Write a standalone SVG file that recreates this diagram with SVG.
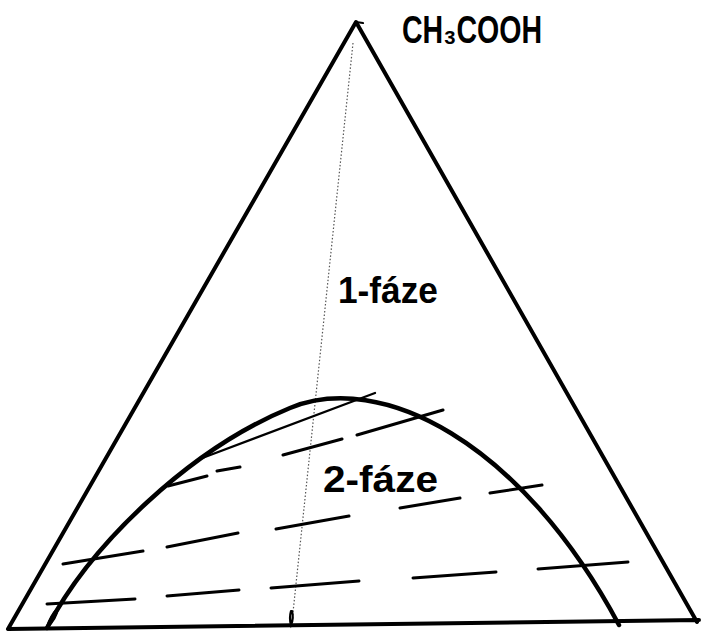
<svg xmlns="http://www.w3.org/2000/svg" width="703" height="632" viewBox="0 0 703 632">
<style>
.frame{fill:none;stroke:#000;stroke-width:4;stroke-linecap:round;stroke-linejoin:round}
.curve{fill:none;stroke:#000;stroke-width:4.5;stroke-linecap:round}
.tie{fill:none;stroke:#000;stroke-width:3;stroke-linecap:round}
.thin{fill:none;stroke:#000;stroke-width:2.2;stroke-linecap:round}
.dot{fill:none;stroke:#555;stroke-width:1.2;stroke-dasharray:1.5 2}
.lbl{font-family:"Liberation Sans","DejaVu Sans",Arial,sans-serif;font-weight:bold;fill:#000}
</style>
<rect width="703" height="632" fill="#fff"/>
<g id="triangle">
<path class="frame" d="M8,629 L356,22 L697,622 M8,629 L699,620"/>
<path class="thin" d="M356,22 L363,23"/>
</g>
<g id="axis">
<path class="dot" d="M353,43 L292,622"/>
<path class="thin" d="M291,611 Q289,618 291,625 Q294,618 292,611"/>
</g>
<g id="binodal">
<path class="curve" d="M47,628 C90,545 190,449 290,408 C380,371 520,440 619,625"/>
<path class="thin" d="M58,608 Q50,616 47,627 Q56,620 58,608"/>
</g>
<g id="connectors">
<path class="thin" d="M197,460 L375,393"/>
<path class="tie" d="M168,486 L207,476 M217,471 L240,467 M283,455 L342,439 M357,435 L443,410"/>
<path class="tie" d="M63,564 L143,551 M167,547 L238,533 M276,529 L349,516 M400,508 L460,498 M490,493 L542,485"/>
<path class="tie" d="M47,604 L135,599 M167,596 L239,590 M271,588 L359,581 M413,578 L496,572 M538,569 L628,562"/>
</g>
<g id="label-ch3cooh">
<text class="lbl" x="402" y="43" font-size="38" textLength="140" lengthAdjust="spacingAndGlyphs">CH₃COOH</text>
</g>
<g id="label-1faze">
<text class="lbl" x="338" y="303" font-size="36" textLength="100" lengthAdjust="spacingAndGlyphs">1-fáze</text>
</g>
<g id="label-2faze">
<text class="lbl" x="323" y="492" font-size="36" textLength="115" lengthAdjust="spacingAndGlyphs">2-fáze</text>
</g>
</svg>
